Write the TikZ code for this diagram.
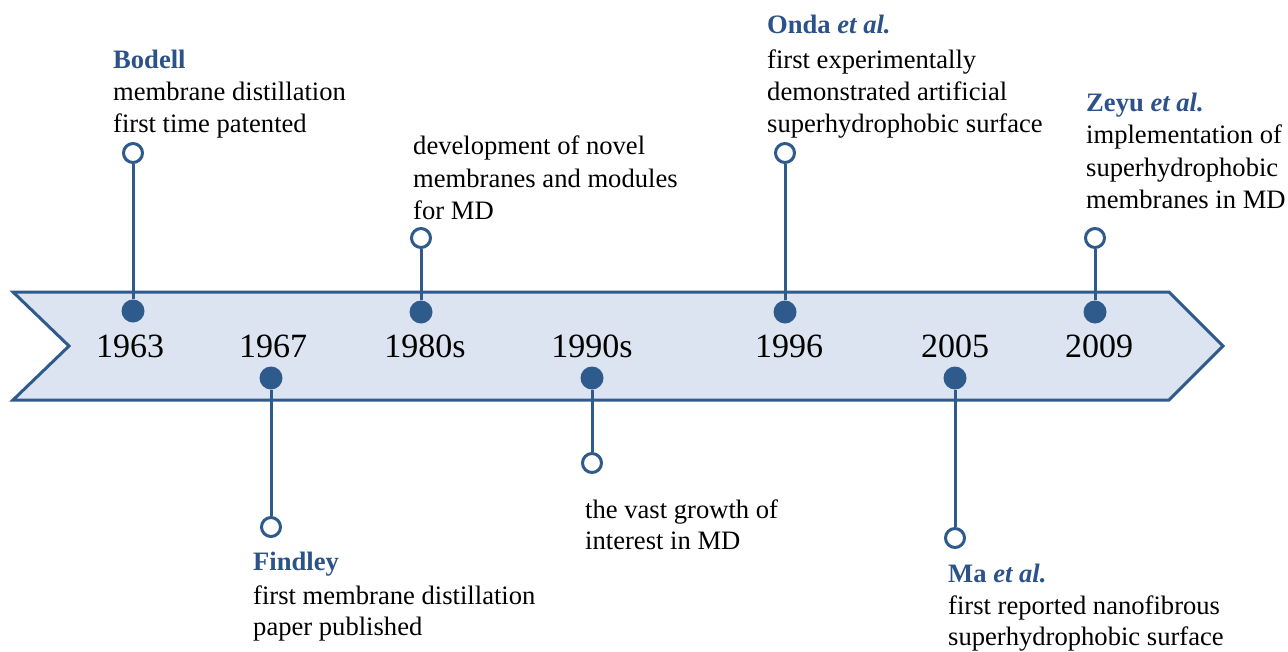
\documentclass[tikz,border=0pt]{standalone}
\usepackage{fontspec}
\setmainfont{Liberation Serif}
\definecolor{tlblue}{RGB}{47,90,140}
\definecolor{tlfill}{RGB}{219,228,240}
\definecolor{ttlblue}{RGB}{44,82,138}
\begin{document}
\begin{tikzpicture}[x=1pt,y=-1pt,
  band/.style={draw=tlblue,fill=tlfill,line width=3pt,line join=miter},
  dot/.style={circle,fill=tlblue,inner sep=0pt,minimum size=23pt},
  ring/.style={circle,draw=tlblue,fill=white,line width=3pt,inner sep=0pt,minimum size=19pt},
  stem/.style={draw=tlblue,line width=3pt},
  year/.style={anchor=base,inner sep=0pt,font=\fontsize{34}{40}\selectfont},
  txt/.style={anchor=base west,inner sep=0pt,font=\fontsize{26.6}{32}\selectfont},
  ttl/.style={anchor=base west,inner sep=0pt,font=\fontsize{26.6}{32}\selectfont\bfseries,text=ttlblue}]
\useasboundingbox (0,0) rectangle (1288,651);
\draw[band] (13,292) -- (1169,292) -- (1223,346) -- (1169,400) -- (13,400) -- (69,346) -- cycle;
% years
\node[year] (y1963) at (130,357) {1963};
\node[year] (y1967) at (273,357) {1967};
\node[year] (y1980) at (425,357) {1980s};
\node[year] (y1990) at (592,357) {1990s};
\node[year] (y1996) at (789,357) {1996};
\node[year] (y2005) at (955,357) {2005};
\node[year] (y2009) at (1099,357) {2009};
% dots and rings
\node[dot] (d1) at (133,311) {};
\node[ring] (r1) at (133,153) {};
\node[dot] (d2) at (271,378) {};
\node[ring] (r2) at (271,527) {};
\node[dot] (d3) at (421,312) {};
\node[ring] (r3) at (421,238) {};
\node[dot] (d4) at (592,378) {};
\node[ring] (r4) at (592,463) {};
\node[dot] (d5) at (785,312) {};
\node[ring] (r5) at (785,153) {};
\node[dot] (d6) at (955,378) {};
\node[ring] (r6) at (955,538) {};
\node[dot] (d7) at (1095,312) {};
\node[ring] (r7) at (1095,238) {};
\foreach \i in {1,...,7} \draw[stem] (d\i) -- (r\i);
% texts
\node[ttl] (t1a) at (113,68) {Bodell};
\node[txt] (t1b) at (113,100) {membrane distillation};
\node[txt] (t1c) at (113,132) {first time patented};
\node[ttl] (t2a) at (253,570) {Findley};
\node[txt] (t2b) at (253,604) {first membrane distillation};
\node[txt] (t2c) at (253,635) {paper published};
\node[txt] (t3a) at (413,154) {development of novel};
\node[txt] (t3b) at (413,187) {membranes and modules};
\node[txt] (t3c) at (413,219) {for MD};
\node[txt] (t4a) at (585,518) {the vast growth of};
\node[txt] (t4b) at (585,549) {interest in MD};
\node[ttl] (t5a) at (767,33) {Onda \textit{et al.}};
\node[txt] (t5b) at (767,68) {first experimentally};
\node[txt] (t5c) at (767,100) {demonstrated artificial};
\node[txt] (t5d) at (767,132) {superhydrophobic surface};
\node[ttl] (t6a) at (948,582) {Ma \textit{et al.}};
\node[txt] (t6b) at (948,614) {first reported nanofibrous};
\node[txt] (t6c) at (948,645) {superhydrophobic surface};
\node[ttl] (t7a) at (1086,111) {Zeyu \textit{et al.}};
\node[txt] (t7b) at (1086,143) {implementation of};
\node[txt] (t7c) at (1086,176) {superhydrophobic};
\node[txt] (t7d) at (1086,208) {membranes in MD};
\end{tikzpicture}
\end{document}
